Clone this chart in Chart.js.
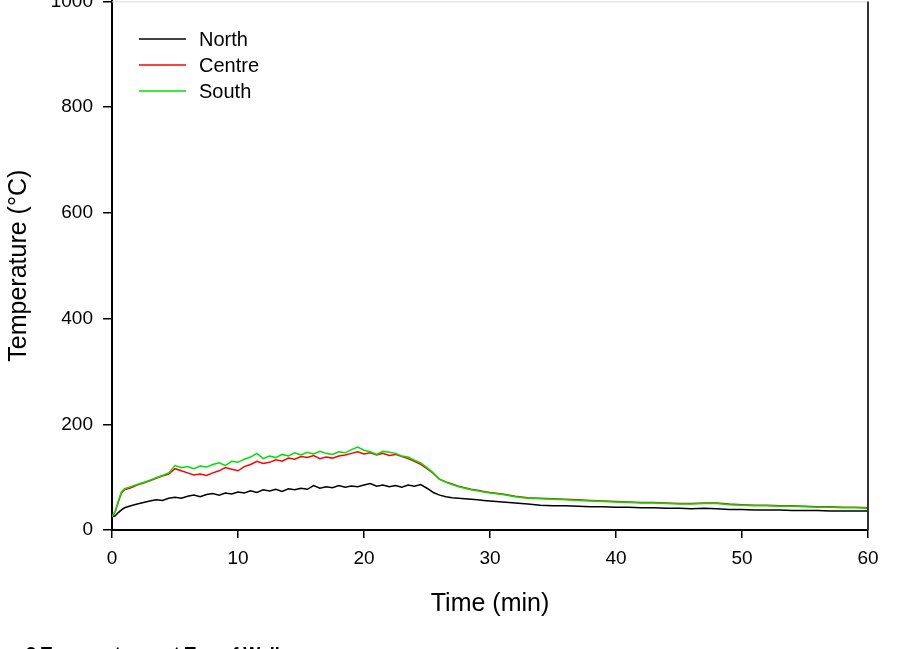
<!DOCTYPE html>
<html>
<head>
<meta charset="utf-8">
<script src="https://cdn.jsdelivr.net/npm/chart.js@4.4.1/dist/chart.umd.min.js"></script>
<style>
  html, body { margin: 0; padding: 0; background: #fff; overflow: hidden; }
  #wrap { position: absolute; left: 0; top: -20px; width: 909px; height: 669px; }
</style>
</head>
<body>
<div id="wrap"><canvas id="tempChart" width="909" height="669"></canvas></div>
<script>
// time (min)
const times = [0, 0.25, 0.5, 0.75, 1, 1.5, 2, 2.5, 3, 3.5, 4, 4.5, 5, 5.5, 6, 6.5, 7, 7.5, 8, 8.5,
  9, 9.5, 10, 10.5, 11, 11.5, 12, 12.5, 13, 13.5, 14, 14.5, 15, 15.5, 16, 16.5, 17, 17.5, 18, 18.5,
  19, 19.5, 20, 20.5, 21, 21.5, 22, 22.5, 23, 23.5, 24, 24.5, 25, 25.5, 26, 26.5, 27, 27.5, 28, 28.5,
  29, 29.5, 30, 31, 32, 33, 34, 35, 36, 37, 38, 39, 40, 41, 42, 43, 44, 45, 46, 47,
  48, 49, 50, 51, 52, 53, 54, 55, 56, 57, 58, 59, 60];

const north = [25, 27, 33, 38, 42, 46, 49, 52, 55, 57, 56, 60, 62, 60, 64, 66, 63, 67, 69, 66,
  70, 68, 72, 70, 74, 71, 76, 74, 77, 73, 78, 76, 79, 77, 84, 79, 82, 80, 84, 81,
  83, 82, 85, 88, 83, 85, 82, 84, 81, 85, 83, 86, 79, 71, 66, 63, 61, 60, 59, 58,
  57, 56, 55, 53, 51, 49, 47, 46, 46, 45, 44, 44, 43, 43, 42, 42, 41, 41, 40, 41,
  40, 39, 39, 38, 38, 38, 37, 37, 37, 36, 36, 36, 36];

const centre = [25, 34, 53, 70, 76, 80, 85, 89, 93, 98, 102, 106, 116, 112, 108, 104, 106, 103, 108, 112,
  118, 115, 112, 120, 124, 130, 126, 128, 133, 130, 136, 134, 139, 137, 141, 135, 138, 136, 140, 142,
  145, 148, 144, 146, 142, 145, 141, 143, 139, 135, 130, 124, 116, 107, 96, 91, 87, 83, 80, 77,
  75, 73, 71, 68, 64, 61, 60, 59, 58, 57, 56, 55, 54, 53, 52, 52, 51, 50, 50, 51,
  51, 49, 48, 47, 47, 46, 46, 45, 44, 44, 43, 43, 42];

const south = [25, 35, 55, 72, 78, 82, 86, 90, 94, 99, 103, 108, 122, 118, 120, 116, 121, 119, 124, 127,
  122, 130, 128, 134, 138, 145, 135, 140, 137, 143, 140, 146, 142, 147, 144, 149, 145, 143, 148, 146,
  152, 157, 151, 148, 143, 149, 147, 145, 140, 138, 132, 127, 118, 108, 96, 90, 86, 82, 79, 76,
  74, 72, 70, 67, 63, 60, 59, 58, 57, 56, 55, 54, 53, 52, 51, 51, 50, 49, 49, 50,
  50, 48, 47, 46, 46, 45, 45, 44, 43, 43, 42, 42, 41];

const seriesNames = ["North", "Centre", "South"];
const seriesColors = ["#000000", "#ff0000", "#00e000"];
const xTicks = [0, 10, 20, 30, 40, 50, 60];
const yTicks = [0, 200, 400, 600, 800, 1000];

const FONT = "'Liberation Sans', Arial, sans-serif";
const OFFSET = 20; // canvas is shifted up by this much

function toPoints(values) {
  return values.map((v, i) => ({ x: times[i], y: v }));
}

// legend, frame and caption drawn on the canvas
const extras = {
  id: "extras",
  afterDraw(chart) {
    const ctx = chart.ctx;
    const area = chart.chartArea;
    ctx.save();
    // top and right frame
    ctx.strokeStyle = "#d8d8d8";
    ctx.lineWidth = 1;
    ctx.beginPath();
    ctx.moveTo(area.left, area.top + 0.5);
    ctx.lineTo(area.right, area.top + 0.5);
    ctx.stroke();
    ctx.strokeStyle = "#333";
    ctx.lineWidth = 2;
    ctx.beginPath();
    ctx.moveTo(area.right, area.top);
    ctx.lineTo(area.right, area.bottom);
    ctx.stroke();

    // legend
    ctx.font = "20px " + FONT;
    ctx.textBaseline = "middle";
    ctx.textAlign = "left";
    seriesNames.forEach((name, i) => {
      const y = OFFSET + 39 + i * 26;
      ctx.strokeStyle = seriesColors[i];
      ctx.lineWidth = 1.5;
      ctx.beginPath();
      ctx.moveTo(139, y);
      ctx.lineTo(186, y);
      ctx.stroke();
      ctx.fillStyle = "#000";
      ctx.fillText(name, 199, y + 1);
    });

    // caption (mostly cut off at the bottom of the window)
    ctx.font = "bold 18px " + FONT;
    ctx.textBaseline = "alphabetic";
    ctx.fillText("3 Temperatures at Top of Wall", 26, OFFSET + 660);
    ctx.restore();
  }
};

new Chart(document.getElementById("tempChart"), {
  type: "line",
  data: {
    datasets: [south, centre, north].map((vals, k) => {
      const idx = 2 - k;
      return {
        label: seriesNames[idx],
        data: toPoints(vals),
        borderColor: seriesColors[idx],
        borderWidth: 1.5,
        pointRadius: 0,
        fill: false,
        tension: 0,
      };
    }),
  },
  options: {
    responsive: false,
    animation: false,
    layout: { padding: { top: OFFSET, right: 41, bottom: 26, left: 0 } },
    plugins: { legend: { display: false }, tooltip: { enabled: false } },
    scales: {
      x: {
        type: "linear",
        min: 0,
        max: 60,
        afterBuildTicks: (s) => { s.ticks = xTicks.map((v) => ({ value: v })); },
        afterFit: (s) => { s.height = 93; },
        border: { color: "#000", width: 2 },
        grid: { drawOnChartArea: false, drawTicks: true, tickLength: 8, color: "#000", lineWidth: 1.5 },
        ticks: { color: "#000", font: { family: FONT, size: 19 }, padding: 9, maxRotation: 0,
                 callback: (v) => String(v) },
        title: { display: true, text: "Time (min)", color: "#000", font: { family: FONT, size: 25 } },
      },
      y: {
        type: "linear",
        min: 0,
        max: 1000,
        afterBuildTicks: (s) => { s.ticks = yTicks.map((v) => ({ value: v })); },
        afterFit: (s) => { s.width = 112; },
        border: { color: "#000", width: 2 },
        grid: { drawOnChartArea: false, drawTicks: true, tickLength: 9, color: "#000", lineWidth: 1.5 },
        ticks: { color: "#000", font: { family: FONT, size: 19 }, padding: 10,
                 callback: (v) => String(v) },
        title: { display: true, text: "Temperature (°C)", color: "#000", font: { family: FONT, size: 25 } },
      },
    },
  },
  plugins: [extras],
});
</script>
</body>
</html>
